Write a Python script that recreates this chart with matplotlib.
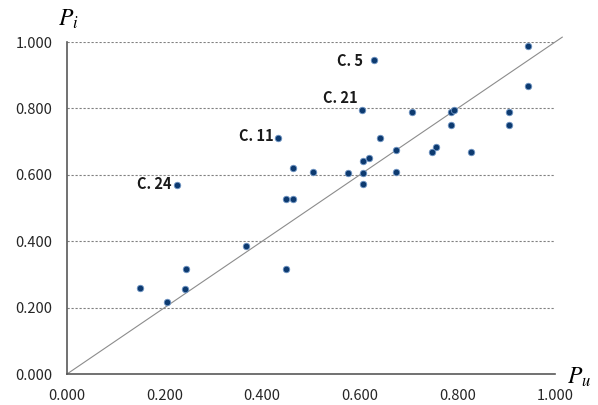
import matplotlib
matplotlib.use("Agg")
import matplotlib.pyplot as plt

plt.rcParams['font.family'] = ['Noto Sans CJK KR', 'DejaVu Sans']
plt.rcParams['mathtext.fontset'] = 'stix'

pu = [0.432, 0.463, 0.225, 0.449, 0.463,
      0.149, 0.204, 0.243, 0.242, 0.367, 0.448,
      0.630, 0.945, 0.945, 0.604, 0.708, 0.787, 0.793, 0.905,
      0.788, 0.905, 0.641, 0.675, 0.756, 0.748, 0.827,
      0.607, 0.619, 0.505, 0.575, 0.606, 0.675, 0.607]
pi = [0.712, 0.620, 0.568, 0.527, 0.527,
      0.260, 0.216, 0.316, 0.255, 0.387, 0.316,
      0.947, 0.988, 0.867, 0.795, 0.788, 0.788, 0.795, 0.788,
      0.749, 0.749, 0.711, 0.676, 0.683, 0.670, 0.670,
      0.642, 0.651, 0.608, 0.607, 0.607, 0.608, 0.574]

labels = ["C. 11", "C. 24", "C. 5", "C. 21"]
label_pts = [(0.432, 0.712), (0.225, 0.568), (0.630, 0.947), (0.604, 0.795)]
label_offsets = [(-3, 1), (-4, 1), (-8, -1), (-3, 3)]

ticks = [0.0, 0.2, 0.4, 0.6, 0.8, 1.0]
tick_labels = ["0.000", "0.200", "0.400", "0.600", "0.800", "1.000"]

fig = plt.figure(figsize=(5.98, 4.05), dpi=100)
ax = fig.add_axes([0.112, 0.0765, 0.816, 0.8195])
ax.set_xlim(0, 1)
ax.set_ylim(0, 1)

for t in ticks[1:]:
    ax.axhline(t, color='#808080', lw=0.8, ls=(0, (2.0, 1.6)), zorder=1)

ax.plot([0, 1.015], [0, 1.015], color='#8c8c8c', lw=0.8, clip_on=False, zorder=2)

ax.scatter(pu, pi, s=22, color='#0d3a70', edgecolors='#6f95c4', linewidths=0.6, zorder=3, clip_on=False)

for lab, (x, y), off in zip(labels, label_pts, label_offsets):
    ax.annotate(lab, (x, y), xytext=off, textcoords='offset points',
                ha='right', va='bottom' if lab == "C. 21" else 'center',
                fontsize=10.5, fontweight='bold', color='#1a1a1a')

ax.set_xticks(ticks)
ax.set_xticklabels(tick_labels)
ax.set_yticks(ticks)
ax.set_yticklabels(tick_labels)
ax.tick_params(length=0, labelsize=10.5, colors='#262626')
ax.tick_params(axis='y', pad=10.5)
ax.tick_params(axis='x', pad=11)

for s in ['top', 'right']:
    ax.spines[s].set_visible(False)
for s in ['left', 'bottom']:
    ax.spines[s].set_color('#595959')
    ax.spines[s].set_linewidth(1.2)

fig.text(68 / 598, 1 - 19 / 405, r'$P_i$', fontsize=17, ha='center', va='center')
fig.text(579 / 598, 1 - 377 / 405, r'$P_u$', fontsize=17, ha='center', va='center')

fig.savefig('out.png', dpi=100)
